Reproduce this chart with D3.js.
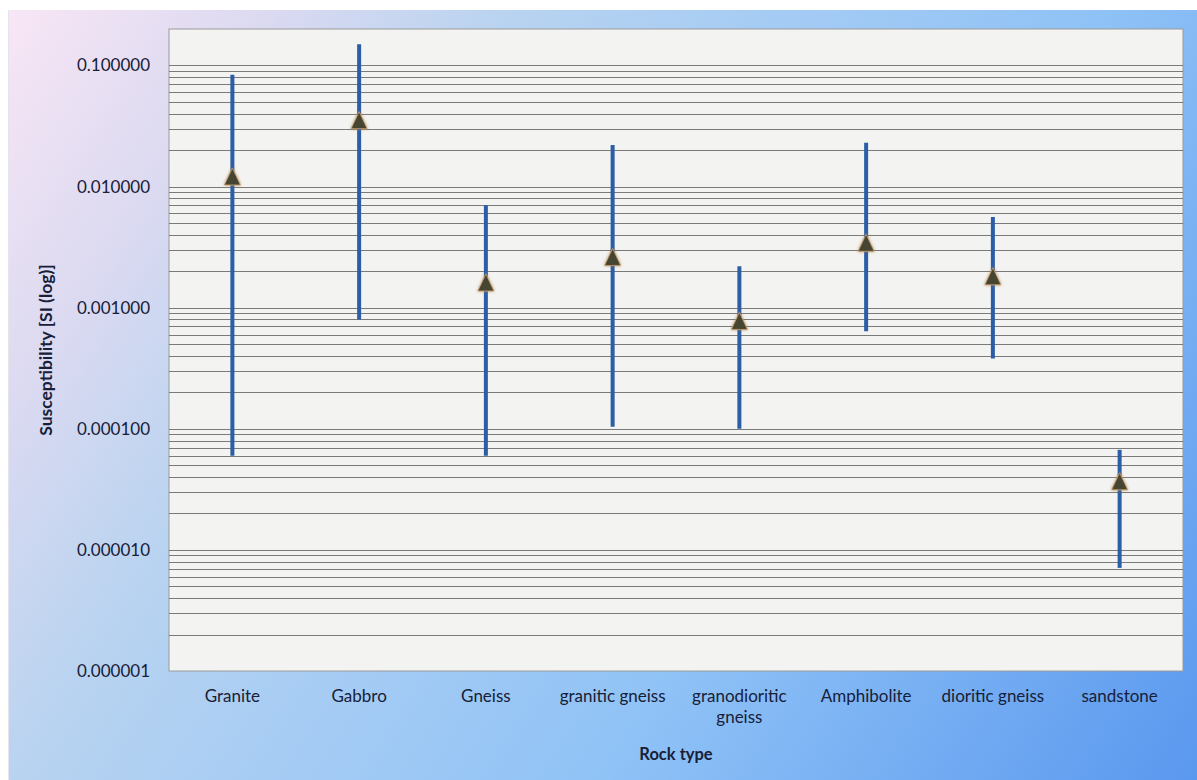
<!DOCTYPE html>
<html>
<head>
<meta charset="utf-8">
<script src="https://cdn.jsdelivr.net/npm/d3@7"></script>
<style>
  html, body { margin: 0; padding: 0; background: #fff; }
  svg { display: block; }
  text { font-family: Lato, "Open Sans", sans-serif; fill: #172038; }
</style>
</head>
<body>
<div id="chart"></div>
<script>
const rocks = ["Granite", "Gabbro", "Gneiss", "granitic gneiss", "granodioritic gneiss",
  "Amphibolite", "dioritic gneiss", "sandstone"];
const maxVals = [0.084, 0.15, 0.007, 0.022, 0.0022, 0.023, 0.0056, 0.000067];
const minVals = [0.00006, 0.0008, 0.00006, 0.000104, 0.0001, 0.00064, 0.00038, 0.0000071];
const meanVals = [0.012, 0.035, 0.0016, 0.0026, 0.00077, 0.0034, 0.0018, 0.0000365];
const yTicks = [0.1, 0.01, 0.001, 0.0001, 0.00001, 0.000001];

const W = 1197, H = 780;
const plot = { left: 169, right: 1183, top: 29, bottom: 671 };

const svg = d3.select("#chart").append("svg").attr("width", W).attr("height", H);
const defs = svg.append("defs");
const bg = defs.append("linearGradient").attr("id", "bg")
  .attr("gradientUnits", "userSpaceOnUse")
  .attr("x1", 8).attr("y1", 10).attr("x2", W).attr("y2", H);
[[0, "#f8e6f5"], [0.15, "#dcdaf1"], [0.3, "#b8d3f0"], [0.45, "#a6ccf4"],
 [0.65, "#8fc2f6"], [1, "#5a98ef"]].forEach(([o, c]) =>
  bg.append("stop").attr("offset", o).attr("stop-color", c));

const glow = defs.append("filter").attr("id", "glow")
  .attr("x", "-50%").attr("y", "-50%").attr("width", "200%").attr("height", "200%");
glow.append("feGaussianBlur").attr("in", "SourceAlpha").attr("stdDeviation", 1.6).attr("result", "b");
glow.append("feFlood").attr("flood-color", "#b07a40").attr("flood-opacity", 0.8);
glow.append("feComposite").attr("in2", "b").attr("operator", "in").attr("result", "s");
const merge = glow.append("feMerge");
merge.append("feMergeNode").attr("in", "s");
merge.append("feMergeNode").attr("in", "SourceGraphic");

svg.append("rect").attr("x", 8).attr("y", 10).attr("width", W - 8).attr("height", H - 10)
  .attr("fill", "url(#bg)");
svg.append("line").attr("x1", 8.5).attr("x2", 8.5).attr("y1", 10).attr("y2", H)
  .attr("stroke", "#e4e4ee").attr("stroke-width", 1);

const x = d3.scaleBand().domain(rocks).range([plot.left, plot.right]);
const y = d3.scaleLog().domain([0.000001, 0.2]).range([plot.bottom, plot.top]);

svg.append("rect").attr("x", plot.left).attr("y", plot.top)
  .attr("width", plot.right - plot.left).attr("height", plot.bottom - plot.top)
  .attr("fill", "#f3f3f2").attr("stroke", "#9a9a9a").attr("stroke-width", 1);

// gridlines at 1..9 x 10^k
const grid = y.ticks().filter(v => v < 0.2 && v > 0.000001);
svg.append("g").selectAll("line").data(grid).join("line")
  .attr("x1", plot.left).attr("x2", plot.right)
  .attr("y1", d => Math.round(y(d)) + 0.5).attr("y2", d => Math.round(y(d)) + 0.5)
  .attr("stroke", "#7a7a7a").attr("stroke-width", 1);

const yAxis = d3.axisLeft(y).tickValues(yTicks).tickFormat(d => d.toFixed(6))
  .tickSize(0).tickPadding(19);
const ya = svg.append("g").attr("transform", `translate(${plot.left},0)`).call(yAxis);
ya.select(".domain").remove();
ya.selectAll("text").style("font-size", "17px").attr("fill", "#172038")
  .attr("font-family", "Lato, sans-serif");

// range lines
svg.append("g").selectAll("line").data(rocks).join("line")
  .attr("x1", d => x(d) + x.bandwidth() / 2).attr("x2", d => x(d) + x.bandwidth() / 2)
  .attr("y1", (d, i) => y(maxVals[i])).attr("y2", (d, i) => y(minVals[i]))
  .attr("stroke", "#2b5ea6").attr("stroke-width", 4);

// mean markers, triangle centred on its mid-height
const tri = "M0,-9L8,8L-8,8Z";
svg.append("g").selectAll("path").data(rocks).join("path")
  .attr("d", tri)
  .attr("transform", (d, i) => `translate(${x(d) + x.bandwidth() / 2},${y(meanVals[i])})`)
  .attr("fill", "#444530").attr("stroke", "#c9a070").attr("stroke-width", 0.8)
  .attr("filter", "url(#glow)");

// category labels
const xl = svg.append("g").selectAll("text").data(rocks).join("text")
  .attr("x", d => x(d) + x.bandwidth() / 2).attr("y", 702)
  .attr("text-anchor", "middle").style("font-size", "17px");
xl.each(function (d) {
  const t = d3.select(this);
  const parts = d === "granodioritic gneiss" ? ["granodioritic", "gneiss"] : [d];
  parts.forEach((p, k) => t.append("tspan").attr("x", x(d) + x.bandwidth() / 2)
    .attr("dy", k ? 21 : 0).text(p));
});

svg.append("text").attr("x", (plot.left + plot.right) / 2).attr("y", 760)
  .attr("text-anchor", "middle").style("font-size", "16.5px").style("font-weight", "bold")
  .text("Rock type");
svg.append("text").attr("transform", `translate(52,${(plot.top + plot.bottom) / 2}) rotate(-90)`)
  .attr("text-anchor", "middle").style("font-size", "17.5px").style("font-weight", "bold")
  .text("Susceptibility [SI (log)]");
</script>
</body>
</html>
